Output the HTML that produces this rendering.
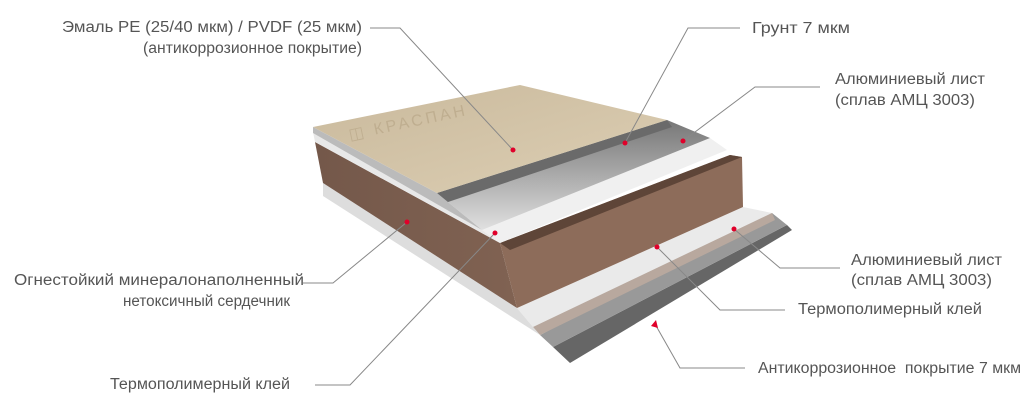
<!DOCTYPE html>
<html><head><meta charset="utf-8"><style>
body{margin:0;background:#fff;width:1036px;height:403px;overflow:hidden}
svg{display:block}
text{font-family:"Liberation Sans",sans-serif;font-size:15.5px;fill:#555}
</style></head><body>
<svg width="1036" height="403" viewBox="0 0 1036 403">
<defs>
<linearGradient id="beige" x1="0" y1="0" x2="1" y2="1"><stop offset="0" stop-color="#c9b99c"/><stop offset="1" stop-color="#ddcfb4"/></linearGradient>
<linearGradient id="brown" x1="0" y1="0" x2="1" y2="0"><stop offset="0" stop-color="#74584a"/><stop offset="1" stop-color="#806252"/></linearGradient>
<linearGradient id="metal" x1="0" y1="0" x2="0" y2="1"><stop offset="0" stop-color="#777"/><stop offset="0.5" stop-color="#aaa"/><stop offset="1" stop-color="#e0e0e0"/></linearGradient>
</defs>
<polygon points="553,347 787,225 792,230 570,363" fill="#666"/>
<polygon points="540,335 772,213 787,225 553,347" fill="#999"/>
<polygon points="517,308 743,207 772,213 540,335 533,327" fill="#eaeaea"/>
<polygon points="533,327 772,213 775,220 540,335" fill="#b8a89e"/>
<polygon points="323,183 517,308 533,327 540,335 323,196" fill="#ddd"/>
<polygon points="500,243 730,155 742,157 743,207 517,308" fill="#8d6c5a"/>
<polygon points="315,142 500,243 517,308 323,183" fill="url(#brown)"/>
<polygon points="500,243 730,155 742,157 510,250" fill="#5e4538"/>
<polygon points="482,230 710,138 727,150 500,243" fill="#f0f0f0"/>
<polygon points="313,132 482,230 500,243 315,142" fill="#e8e8e8"/>
<polygon points="437,193 667,120 710,138 482,230" fill="url(#metal)"/>
<polygon points="437,193 667,120 672,127 445,203" fill="#6a6a6a"/>
<polygon points="313,127 437,193 482,230 313,133" fill="#bbb"/>
<polygon points="313,127 520,85 667,120 437,193" fill="url(#beige)"/>
<text x="350" y="140" transform="rotate(-12 350 140)" style="font-size:16px;fill:#bfae90;letter-spacing:3px">◫ КРАСПАН</text>
<g stroke="#888" stroke-width="1" fill="none">
<polyline points="370,28 400,28 513,150"/>
<polyline points="740,28 688,28 625,143"/>
<polyline points="820,87 755,87 683,141"/>
<polyline points="734,229 780,268 840,268"/>
<polyline points="657,247 720,310 785,310"/>
<polyline points="655,324 680,368 745,368"/>
<polyline points="407,222 333,283 303,283"/>
<polyline points="495,233 350,385 315,385"/>
</g>
<g fill="#e0002a">
<circle cx="513" cy="150" r="2.5"/><circle cx="625" cy="143" r="2.5"/><circle cx="683" cy="141" r="2.5"/>
<circle cx="734" cy="229" r="2.5"/><circle cx="657" cy="247" r="2.5"/><circle cx="407" cy="222" r="2.5"/>
<circle cx="495" cy="233" r="2.5"/>
<polygon points="651,326 656,320 658,328"/>
</g>
<g lengthAdjust="spacingAndGlyphs">
<text x="62" y="32" textLength="300" lengthAdjust="spacingAndGlyphs">Эмаль PE (25/40 мкм) / PVDF (25 мкм)</text>
<text x="143" y="53" textLength="219" lengthAdjust="spacingAndGlyphs">(антикоррозионное покрытие)</text>
<text x="752" y="33" textLength="98" lengthAdjust="spacingAndGlyphs">Грунт 7 мкм</text>
<text x="835" y="84" textLength="150" lengthAdjust="spacingAndGlyphs">Алюминиевый лист</text>
<text x="835" y="105" textLength="140" lengthAdjust="spacingAndGlyphs">(сплав АМЦ 3003)</text>
<text x="851" y="265" textLength="151" lengthAdjust="spacingAndGlyphs">Алюминиевый лист</text>
<text x="851" y="285" textLength="141" lengthAdjust="spacingAndGlyphs">(сплав АМЦ 3003)</text>
<text x="798" y="314" textLength="184" lengthAdjust="spacingAndGlyphs">Термополимерный клей</text>
<text x="758" y="373" textLength="263" lengthAdjust="spacingAndGlyphs" xml:space="preserve">Антикоррозионное  покрытие 7 мкм</text>
<text x="14" y="285" textLength="290" lengthAdjust="spacingAndGlyphs">Огнестойкий минералонаполненный</text>
<text x="123" y="306" textLength="167" lengthAdjust="spacingAndGlyphs">нетоксичный сердечник</text>
<text x="110" y="389" textLength="180" lengthAdjust="spacingAndGlyphs">Термополимерный клей</text>
</g>
</svg>
</body></html>
